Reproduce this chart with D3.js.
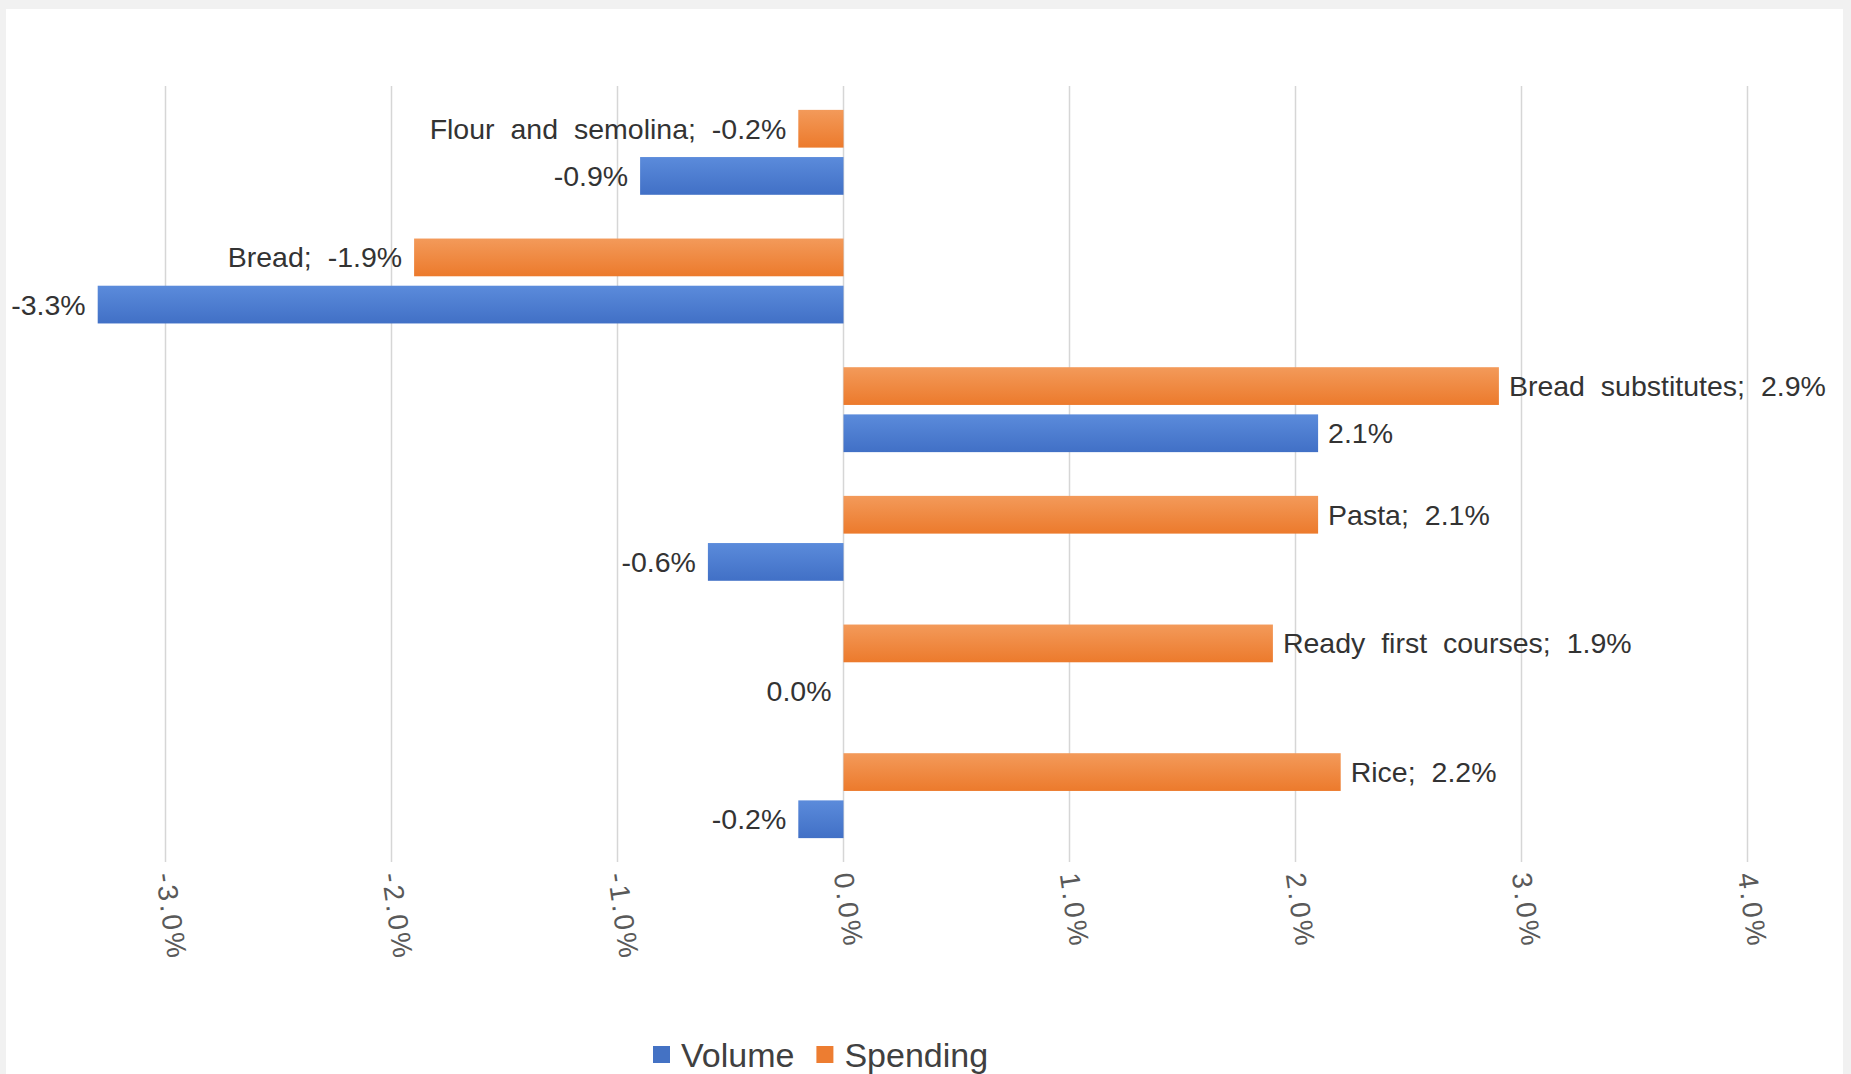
<!DOCTYPE html>
<html>
<head>
<meta charset="utf-8">
<script src="https://cdn.jsdelivr.net/npm/d3@7"></script>
<style>
  html, body { margin: 0; padding: 0; background: #f1f1f1; }
  svg { display: block; font-family: "Liberation Sans", Arial, sans-serif; }
</style>
</head>
<body>
<div id="chart"></div>
<script>
// data
const categories = ["Flour and semolina", "Bread", "Bread substitutes", "Pasta", "Ready first courses", "Rice"];
const spending = [-0.2, -1.9, 2.9, 2.1, 1.9, 2.2];
const volume = [-0.9, -3.3, 2.1, -0.6, 0.0, -0.2];
const series = ["Spending", "Volume"];
const legendOrder = ["Volume", "Spending"];
const xTicks = [-3, -2, -1, 0, 1, 2, 3, 4];

const W = 1851, H = 1074;

const svg = d3.select("#chart")
    .append("svg")
    .attr("width", W)
    .attr("height", H);

// white card on light grey page
svg.append("rect")
    .attr("x", 6).attr("y", 9)
    .attr("width", 1837).attr("height", H - 9)
    .attr("fill", "white");

// gradients like the office theme
const defs = svg.append("defs");
const grads = { Spending: ["#f39a5a", "#ec7a2c"], Volume: ["#5b8bdb", "#4170c6"] };
Object.keys(grads).forEach(k => {
    const g = defs.append("linearGradient").attr("id", "g" + k)
        .attr("x1", 0).attr("y1", 0).attr("x2", 0).attr("y2", 1);
    g.append("stop").attr("offset", "0%").attr("stop-color", grads[k][0]);
    g.append("stop").attr("offset", "100%").attr("stop-color", grads[k][1]);
});
const color = d3.scaleOrdinal().domain(series).range(["#ED7D31", "#4472C4"]);

// scales
const x = d3.scaleLinear().domain([-3, 4]).range([165.5, 1747.5]);
const y = d3.scaleBand().domain(categories).range([88, 860])
    .paddingInner(0.34).paddingOuter(0.17);
const ySub = d3.scaleBand().domain(series).range([0, y.bandwidth()]).paddingInner(0.2);

const fmt = d3.formatLocale({ decimal: ".", thousands: ",", grouping: [3], currency: ["", ""], minus: "-" })
    .format(".1f");
const pct = v => fmt(v) + "%";

// vertical gridlines
svg.append("g")
    .selectAll("line")
    .data(xTicks)
    .join("line")
        .attr("x1", d => x(d)).attr("x2", d => x(d))
        .attr("y1", 86).attr("y2", 862)
        .attr("stroke", "#d6d6d6")
        .attr("stroke-width", 1.5);

// tick labels, rotated and a bit slanted
svg.append("g")
    .selectAll("text")
    .data(xTicks)
    .join("text")
        .attr("transform", d => `translate(${x(d)},873) rotate(82)`)
        .attr("dy", "0.35em")
        .attr("font-size", "28px")
        .attr("letter-spacing", "3px")
        .attr("fill", "#595959")
        .attr("text-anchor", "start")
        .text(d => pct(d));

// rows
const rows = categories.map((c, i) => ({ cat: c, values: [
    { key: "Spending", value: spending[i] },
    { key: "Volume", value: volume[i] }
]}));

const grp = svg.append("g")
    .selectAll("g")
    .data(rows)
    .join("g")
        .attr("transform", d => `translate(0,${y(d.cat)})`);

grp.selectAll("rect")
    .data(d => d.values)
    .join("rect")
        .attr("x", d => x(Math.min(0, d.value)))
        .attr("y", d => ySub(d.key))
        .attr("width", d => Math.abs(x(d.value) - x(0)))
        .attr("height", ySub.bandwidth())
        .attr("fill", d => `url(#g${d.key})`);

grp.selectAll("text")
    .data(d => d.values.map(v => ({ ...v, cat: d.cat })))
    .join("text")
        .attr("x", d => d.value > 0 ? x(d.value) + 10 : x(Math.min(0, d.value)) - 12)
        .attr("y", d => ySub(d.key) + ySub.bandwidth() / 2)
        .attr("dy", "0.35em")
        .attr("text-anchor", d => d.value > 0 ? "start" : "end")
        .attr("font-size", "28.5px")
        .attr("word-spacing", "8px")
        .attr("fill", "#333")
        .text(d => d.key === "Spending" ? `${d.cat}; ${pct(d.value)}` : pct(d.value));

// legend
const legend = svg.append("g").attr("transform", "translate(653,1054)");
let lx = 0;
legendOrder.forEach(k => {
    const item = legend.append("g").attr("transform", `translate(${lx},0)`);
    item.append("rect")
        .attr("x", 0).attr("y", -8)
        .attr("width", 17).attr("height", 17)
        .attr("fill", color(k));
    const t = item.append("text")
        .attr("x", 28).attr("y", 0)
        .attr("dy", "0.38em")
        .attr("font-size", "34px")
        .attr("fill", "#404040")
        .text(k);
    lx += 28 + t.node().getComputedTextLength() + 22;
});
</script>
</body>
</html>
